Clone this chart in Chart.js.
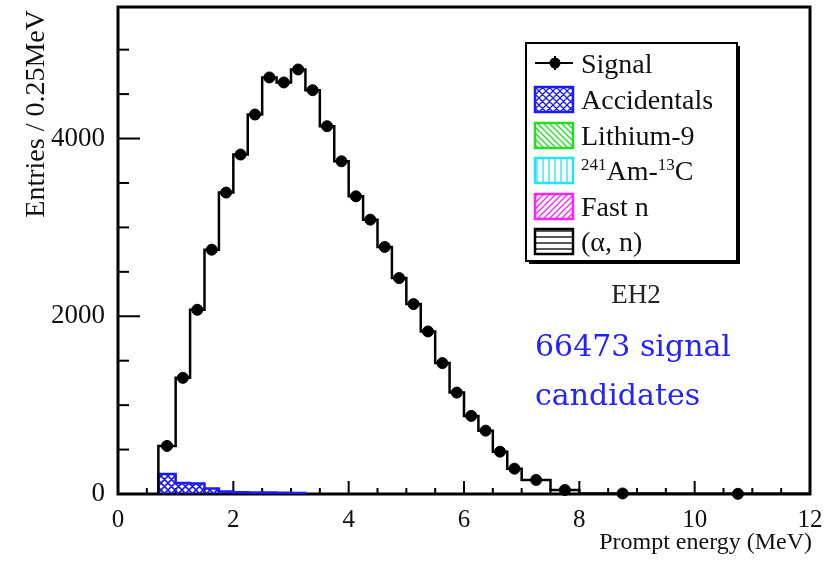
<!DOCTYPE html>
<html>
<head>
<meta charset="utf-8">
<script src="https://cdn.jsdelivr.net/npm/chart.js@4.4.1/dist/chart.umd.min.js"></script>
<style>
  html, body { margin: 0; padding: 0; background: #fff; }
  #wrap { width: 832px; height: 561px; position: relative; }
</style>
</head>
<body>
<div id="wrap"><canvas id="promptChart"></canvas></div>
<script>
// bin edges of the prompt energy histogram (MeV)
const binEdges = [0.7, 1.0, 1.25, 1.5, 1.75, 2.0, 2.25, 2.5, 2.75, 3.0, 3.25, 3.5, 3.75, 4.0,
  4.25, 4.5, 4.75, 5.0, 5.25, 5.5, 5.75, 6.0, 6.25, 6.5, 6.75, 7.0, 7.5, 8.0, 9.5, 12.0];

// entries / 0.25 MeV
const signalCounts = [541, 1307, 2073, 2749, 3392, 3820, 4270, 4687, 4631, 4777, 4544, 4139,
  3744, 3350, 3087, 2780, 2430, 2137, 1829, 1473, 1141, 879, 713, 476, 285, 158, 45, 6, 2];
const accidentalCounts = [225, 125, 118, 62, 28, 20, 18, 16, 14, 12, 0, 0, 0, 0, 0, 0, 0, 0,
  0, 0, 0, 0, 0, 0, 0, 0, 0, 0, 0];

const xTicks = [0, 2, 4, 6, 8, 10, 12];
const yTicks = [0, 2000, 4000];

const legendNames = ["Signal", "Accidentals", "Lithium-9", "241Am-13C", "Fast n", "(\u03b1, n)"];

const SERIF = "'Liberation Serif', 'Times New Roman', serif";

// step outline: (lo,v) -> (hi,v) for every bin, closed down to zero at both ends
function stepPoints(edges, counts) {
  let last = counts.length - 1;
  while (last > 0 && counts[last] === 0) last--;
  const pts = [{ x: edges[0], y: 0 }];
  for (let i = 0; i <= last; i++) {
    pts.push({ x: edges[i], y: counts[i] });
    pts.push({ x: edges[i + 1], y: counts[i] });
  }
  pts.push({ x: edges[last + 1], y: 0 });
  return pts;
}

function binCenters(edges, counts) {
  return counts.map((v, i) => ({ x: (edges[i] + edges[i + 1]) / 2, y: v }));
}

// ROOT-like hatch fills
function hatch(color, kind, size, lw) {
  const c = document.createElement("canvas");
  c.width = c.height = size;
  const g = c.getContext("2d");
  g.strokeStyle = color;
  g.lineWidth = lw;
  g.beginPath();
  const s = size;
  if (kind === "fwd" || kind === "cross") {
    g.moveTo(-1, s + 1); g.lineTo(s + 1, -1);
    g.moveTo(-s / 2 - 1, s / 2 + 1); g.lineTo(s / 2 + 1, -s / 2 - 1);
    g.moveTo(s / 2 - 1, s * 1.5 + 1); g.lineTo(s * 1.5 + 1, s / 2 - 1);
  }
  if (kind === "back" || kind === "cross") {
    g.moveTo(-1, -1); g.lineTo(s + 1, s + 1);
    g.moveTo(-s / 2 - 1, s / 2 - 1); g.lineTo(s / 2 + 1, s * 1.5 + 1);
    g.moveTo(s / 2 - 1, -s / 2 - 1); g.lineTo(s * 1.5 + 1, s / 2 + 1);
  }
  if (kind === "vert") {
    g.moveTo(s / 2, 0); g.lineTo(s / 2, s);
  }
  if (kind === "horiz") {
    g.moveTo(0, s / 2); g.lineTo(s, s / 2);
  }
  g.stroke();
  return g.createPattern(c, "repeat");
}

const accidentalFill = hatch("#1a1aff", "cross", 7, 1.6);

// frame and inward ticks, drawn under the histograms
const framePlugin = {
  id: "frame",
  beforeDatasetsDraw(chart) {
    const { ctx, chartArea: a, scales } = chart;
    ctx.save();
    ctx.strokeStyle = "#000";
    ctx.lineWidth = 2;
    for (let v = 0; v <= 12.001; v += 0.5) {
      const px = scales.x.getPixelForValue(v);
      const len = Math.abs(v % 2) < 1e-6 ? 13 : 6;
      ctx.beginPath(); ctx.moveTo(px, a.bottom); ctx.lineTo(px, a.bottom - len); ctx.stroke();
    }
    for (let v = 0; v <= scales.y.max; v += 500) {
      const py = scales.y.getPixelForValue(v);
      const len = v % 2000 === 0 ? 22 : 11;
      ctx.beginPath(); ctx.moveTo(a.left, py); ctx.lineTo(a.left + len, py); ctx.stroke();
    }
    ctx.lineWidth = 3;
    ctx.strokeRect(a.left, a.top, a.right - a.left, a.bottom - a.top);
    ctx.restore();
  }
};

function legendSwatch(ctx, x, y, w, h, color, kind) {
  ctx.fillStyle = hatch(color, kind, kind === "cross" ? 7 : 6, 1.3);
  ctx.fillRect(x, y, w, h);
  ctx.strokeStyle = color;
  ctx.lineWidth = 2.5;
  ctx.strokeRect(x, y, w, h);
}

// legend box and annotations
const annotatePlugin = {
  id: "annotate",
  afterDraw(chart) {
    const ctx = chart.ctx;
    ctx.save();

    // legend frame with shadow
    ctx.fillStyle = "#fff";
    ctx.fillRect(526, 43, 211, 218);
    ctx.strokeStyle = "#000";
    ctx.lineWidth = 2;
    ctx.strokeRect(526, 43, 211, 218);
    ctx.fillStyle = "#000";
    ctx.fillRect(737, 46, 3, 218);
    ctx.fillRect(529, 261, 211, 3);

    const rowY = [63, 99, 135, 170, 206, 241];
    const swatches = [null,
      ["#1a1aff", "cross"], ["#22dd22", "back"], ["#22e5f0", "vert"],
      ["#ff22ff", "fwd"], ["#000", "horiz"]];

    // signal marker
    ctx.strokeStyle = "#000";
    ctx.lineWidth = 2;
    ctx.beginPath();
    ctx.moveTo(535, rowY[0]); ctx.lineTo(573, rowY[0]);
    ctx.moveTo(555, rowY[0] - 7); ctx.lineTo(555, rowY[0] + 7);
    ctx.stroke();
    ctx.beginPath(); ctx.arc(555, rowY[0], 5.5, 0, Math.PI * 2); ctx.fillStyle = "#000"; ctx.fill();

    for (let i = 1; i < swatches.length; i++) {
      legendSwatch(ctx, 535, rowY[i] - 12, 38, 25, swatches[i][0], swatches[i][1]);
    }

    ctx.fillStyle = "#111";
    ctx.textBaseline = "alphabetic";
    ctx.textAlign = "left";
    ctx.font = "28px " + SERIF;
    legendNames.forEach((name, i) => {
      const base = rowY[i] + 10;
      if (i === 3) {
        let x = 581;
        ctx.font = "17px " + SERIF; ctx.fillText("241", x, base - 10); x += ctx.measureText("241").width;
        ctx.font = "28px " + SERIF; ctx.fillText("Am-", x, base); x += ctx.measureText("Am-").width;
        ctx.font = "17px " + SERIF; ctx.fillText("13", x, base - 10); x += ctx.measureText("13").width;
        ctx.font = "28px " + SERIF; ctx.fillText("C", x, base);
      } else {
        ctx.fillText(name, 581, base);
      }
    });

    // hall label and candidate count
    ctx.textAlign = "center";
    ctx.fillStyle = "#222";
    ctx.font = "27px " + SERIF;
    ctx.fillText("EH2", 636, 303);
    ctx.textAlign = "left";
    ctx.fillStyle = "#2323ff";
    ctx.font = "30px 'DejaVu Serif', serif";
    ctx.fillText("66473 signal", 535, 356);
    ctx.fillText("candidates", 535, 405);

    // axis titles
    ctx.fillStyle = "#111";
    ctx.font = "24px " + SERIF;
    ctx.textAlign = "right";
    ctx.fillText("Prompt energy (MeV)", 812, 549);
    ctx.translate(44, 10);
    ctx.rotate(-Math.PI / 2);
    ctx.font = "28px " + SERIF;
    ctx.fillText("Entries / 0.25MeV", 0, 0);
    ctx.restore();
  }
};

new Chart(document.getElementById("promptChart").getContext("2d"), {
  type: "line",
  plugins: [framePlugin, annotatePlugin],
  data: {
    datasets: [
      {
        label: "Signal",
        type: "scatter",
        data: binCenters(binEdges, signalCounts),
        pointStyle: "circle",
        pointRadius: 5.5,
        pointBackgroundColor: "#000",
        pointBorderColor: "#000",
        showLine: false,
        clip: false,
        order: 0
      },
      {
        label: "Signal histogram",
        data: stepPoints(binEdges, signalCounts),
        borderColor: "#000",
        borderWidth: 2.5,
        pointRadius: 0,
        tension: 0,
        fill: false,
        order: 1
      },
      {
        label: "Accidentals",
        data: stepPoints(binEdges, accidentalCounts),
        borderColor: "#1a1aff",
        borderWidth: 2.5,
        backgroundColor: accidentalFill,
        pointRadius: 0,
        tension: 0,
        fill: "origin",
        order: 2
      }
    ]
  },
  options: {
    responsive: true,
    maintainAspectRatio: false,
    animation: false,
    layout: { padding: { top: 7, right: 22, left: 0, bottom: 0 } },
    plugins: {
      legend: { display: false },
      tooltip: { enabled: false }
    },
    scales: {
      x: {
        type: "linear",
        min: 0,
        max: 12,
        afterBuildTicks: (scale) => { scale.ticks = xTicks.map(v => ({ value: v })); },
        afterFit: (scale) => {
          scale.height = 67;
          scale.paddingLeft = 0;
          scale.paddingRight = 0;
        },
        grid: { display: false },
        border: { display: false },
        ticks: {
          color: "#111",
          padding: 3,
          maxRotation: 0,
          callback: (v) => String(v),
          font: { family: SERIF, size: 25 }
        }
      },
      y: {
        type: "linear",
        min: 0,
        max: 5480,
        afterBuildTicks: (scale) => { scale.ticks = yTicks.map(v => ({ value: v })); },
        afterFit: (scale) => {
          scale.width = 118;
          scale.paddingTop = 0;
          scale.paddingBottom = 0;
        },
        grid: { display: false },
        border: { display: false },
        ticks: {
          color: "#111",
          padding: 5,
          callback: (v) => String(v),
          font: { family: SERIF, size: 27 }
        }
      }
    }
  }
});
</script>
</body>
</html>
